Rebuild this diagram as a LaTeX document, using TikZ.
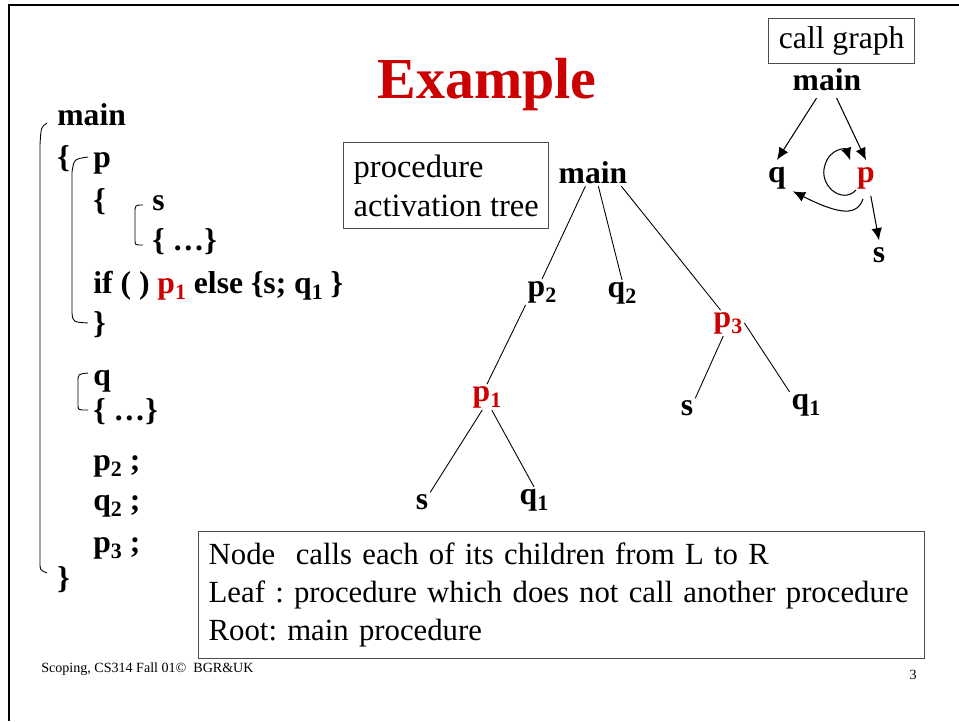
\documentclass[tikz,border=0pt]{standalone}
\usepackage{fontspec}
\setmainfont{Liberation Serif}
\usetikzlibrary{arrows.meta}
\definecolor{slidered}{RGB}{204,0,0}
\frenchspacing
\newcommand{\subidx}[1]{\raisebox{-3.5pt}{\fontsize{12.5}{13}\selectfont #1}}
\tikzset{
  code/.style={anchor=base west, inner sep=0pt, font=\fontsize{18}{20}\selectfont\bfseries},
  tnode/.style={inner sep=1pt, font=\fontsize{18}{20}\selectfont\bfseries},
  gnode/.style={inner sep=1pt, outer sep=3pt, font=\fontsize{18}{20}\selectfont\bfseries},
  note/.style={draw=black!70, line width=0.8pt, align=left},
  calls/.style={-{Latex[length=7pt,width=6pt]}, line width=0.6pt},
  bracket/.style={line width=0.5pt}
}
\begin{document}
\begin{tikzpicture}[x=0.02cm, y=-0.02cm]
    \useasboundingbox (0,0) rectangle (959,721);
    % 页面边框
    \draw[line width=1.6pt] (9,721) -- (9,5) -- (959,5);

    % 标题
    \node[font=\fontsize{33}{36}\selectfont\bfseries, text=slidered] (title) at (487,85) {Example};

    % 程序代码
    \node[code] (cmain) at (57,125) {main};
    \node[code] (copen1) at (57,167) {\{};
    \node[code] (cp) at (93,167) {p};
    \node[code] (copen2) at (93,210) {\{};
    \node[code] (cs) at (152,210) {s};
    \node[code] (cdots1) at (152,250) {\{ …\}};
    \node[code] (cif) at (93,293) {if ( ) {\color{slidered}p\subidx{1}} else \{s; q\subidx{1} \}};
    \node[code] (cclose1) at (93,333) {\}};
    \node[code] (cq) at (93,385) {q};
    \node[code] (cdots2) at (93,420) {\{ …\}};
    \node[code] (cp2) at (93,470) {p\subidx{2} ;};
    \node[code] (cq2) at (93,510) {q\subidx{2} ;};
    \node[code] (cp3) at (93,552) {p\subidx{3} ;};
    \node[code] (cclose2) at (57,588) {\}};

    % 作用域括号
    \draw[bracket] (47,123) .. controls (41,127) .. (40,145) -- (40,562) .. controls (40,570) .. (47,573);
    \draw[bracket] (88,157) .. controls (74,159) .. (72,172) -- (72,313) .. controls (73,322) .. (88,323);
    \draw[bracket] (143,205) .. controls (135,205) .. (135,213) -- (135,240) .. controls (135,245) .. (143,245);
    \draw[bracket] (88,373) .. controls (78,374) .. (78,382) -- (78,405) .. controls (78,410) .. (88,410);

    % 说明框
    \node[note, anchor=north west, minimum height=1.72cm, inner xsep=0.2cm,
          font=\fontsize{18.5}{22}\selectfont] (actbox) at (343,142) {procedure\\activation tree};
    \node[note, anchor=north west, minimum width=2.92cm, minimum height=0.9cm, align=center,
          font=\fontsize{18}{20}\selectfont] (cgbox) at (768,18) {call graph};
    \node[note, anchor=north west, minimum height=2.54cm, text width=14.12cm, inner xsep=0.2cm,
          font=\fontsize{17.5}{21.5}\selectfont] (rulebox) at (198,531)
          {Node\ \ calls each of its children from L to R\\
           Leaf : procedure which does not call another procedure\\
           Root: main procedure};

    % 活动树
    \node[tnode] (tmain) at (593,173) {main};
    \node[tnode] (tp2) at (542,292) {p\subidx{2}};
    \node[tnode] (tq2) at (622,293) {q\subidx{2}};
    \node[tnode, text=slidered] (tp3) at (728,323) {p\subidx{3}};
    \node[tnode, text=slidered] (tp1) at (487,397) {p\subidx{1}};
    \node[tnode] (ts3) at (687,408) {s};
    \node[tnode] (tq13) at (806,405) {q\subidx{1}};
    \node[tnode] (ts1) at (422,502) {s};
    \node[tnode] (tq11) at (534,500) {q\subidx{1}};
    \draw[line width=0.5pt] (tmain.-120) -- (tp2.north);
    \draw[line width=0.5pt] (tmain.-68) -- (tq2.north);
    \draw[line width=0.5pt] (tmain.-25) -- (tp3.120);
    \draw[line width=0.5pt] (tp2.south west) -- (tp1.north);
    \draw[line width=0.5pt] (tp3.-110) -- (ts3.north east);
    \draw[line width=0.5pt] (tp3.east) -- (tq13.north west);
    \draw[line width=0.5pt] (tp1.-110) -- (ts1.north east);
    \draw[line width=0.5pt] (tp1.-70) -- (tq11.north);

    % 调用图
    \node[gnode] (gmain) at (827,80) {main};
    \node[gnode] (gq) at (777,178) {q};
    \node[gnode, text=slidered] (gp) at (866,178) {p};
    \node[gnode] (gs) at (879,255) {s};
    \draw[calls] (gmain.-120) -- (gq.north);
    \draw[calls] (gmain.-62) -- (gp.north);
    \draw[calls] (gp.-75) -- (gs.north);
    \draw[calls] (856,190) .. controls (842,205) and (818,185) .. (825,165)
        .. controls (830,148) and (846,148) .. (gp.north west);
    \draw[calls] (863,199) .. controls (857,216) and (840,215) .. (gq.-40);

    % 页脚
    \node[anchor=base west, inner sep=0pt, font=\fontsize{8}{9}\selectfont] (footer) at (41,672)
        {Scoping, CS314 Fall 01©\ \ BGR\&UK};
    \node[inner sep=0pt, font=\fontsize{8}{9}\selectfont] (pagenum) at (913,675) {3};
\end{tikzpicture}
\end{document}
